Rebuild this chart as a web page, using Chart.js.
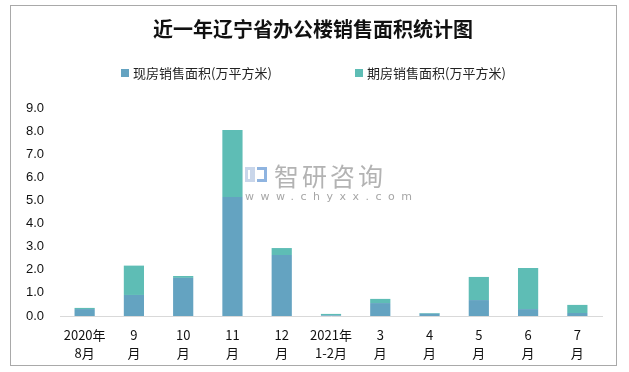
<!DOCTYPE html>
<html>
<head>
<meta charset="utf-8">
<script src="https://cdn.jsdelivr.net/npm/chart.js@4"></script>
<style>
    html, body { margin: 0; padding: 0; background: #fff; }
    #wrap { position: relative; width: 629px; height: 372px; }
    #frame { position: absolute; left: 10px; top: 5px; width: 605px; height: 359px; border: 1px solid #a9a9a9; box-sizing: content-box; }
    #legend { position: absolute; top: 65px; left: 0; width: 629px; font: 13px "Noto Sans CJK SC", sans-serif; color: #222; }
    #legend span.item { position: absolute; white-space: nowrap; line-height: 16px; }
    #legend i { display: inline-block; width: 8px; height: 8px; margin-right: 4px; vertical-align: 1px; }
    #mark { position: absolute; left: 245px; top: 162px; color: #b3b3b3; pointer-events: none; }
    #mark .cn { position: absolute; left: 29px; top: 1px; font: 25px "Noto Sans CJK SC", sans-serif; letter-spacing: 3px; line-height: 24px; white-space: nowrap; }
    #mark .en { position: absolute; left: 0; top: 29px; font: 11px "DejaVu Sans", sans-serif; letter-spacing: 6.5px; line-height: 12px; white-space: nowrap; color: #a6a6a6; }
    #mark .logo1 { position: absolute; left: 0; top: 5px; width: 10px; height: 15px; border: 3px solid #c9d6ea; border-right-width: 5px; box-sizing: border-box; }
    #mark .logo2 { position: absolute; left: 12px; top: 5px; width: 10px; height: 15px; border: 3px solid #8fb4e0; border-left-width: 0; box-sizing: border-box; }
    canvas { position: absolute; left: 0; top: 0; }
</style>
</head>
<body>
<div id="wrap">
    <div id="frame"></div>
    <canvas id="salesChart" width="629" height="372"></canvas>
    <div id="legend"></div>
    <div id="mark">
        <div class="logo1"></div><div class="logo2"></div>
        <div class="cn">智研咨询</div>
        <div class="en">www.chyxx.com</div>
    </div>
</div>
<script>
// --- Données : surface de vente des bureaux, Liaoning ---
const categories = [
    ['2020年', '8月'], ['9', '月'], ['10', '月'], ['11', '月'], ['12', '月'],
    ['2021年', '1-2月'], ['3', '月'], ['4', '月'], ['5', '月'], ['6', '月'], ['7', '月']
];
const seriesNames = ['现房销售面积(万平方米)', '期房销售面积(万平方米)'];
const existingArea = [0.30, 0.91, 1.65, 5.15, 2.64, 0.03, 0.56, 0.10, 0.69, 0.30, 0.13];
const forwardArea  = [0.05, 1.27, 0.08, 2.90, 0.30, 0.06, 0.18, 0.03, 1.00, 1.78, 0.35];
const yTicks = [0, 1, 2, 3, 4, 5, 6, 7, 8, 9];

const colors = ['#64a3c1', '#5ebdb5'];
const titleText = '近一年辽宁省办公楼销售面积统计图';

// légende HTML (positions calées sur l'original)
const legendEl = document.getElementById('legend');
const legendX = [121, 355];
seriesNames.forEach((name, i) => {
    const s = document.createElement('span');
    s.className = 'item';
    s.style.left = legendX[i] + 'px';
    s.innerHTML = `<i style="background:${colors[i]}"></i>${name}`;
    legendEl.appendChild(s);
});

const ctx = document.getElementById('salesChart');
new Chart(ctx, {
    type: 'bar',
    data: {
        labels: categories,
        datasets: [
            { label: seriesNames[0], data: existingArea, backgroundColor: colors[0], barPercentage: 0.41, categoryPercentage: 1 },
            { label: seriesNames[1], data: forwardArea, backgroundColor: colors[1], barPercentage: 0.41, categoryPercentage: 1 }
        ]
    },
    options: {
        responsive: false,
        animation: false,
        layout: { padding: { left: 24, right: 27, top: 0, bottom: 0 } },
        plugins: {
            legend: { display: false },
            tooltip: { enabled: false },
            title: {
                display: true,
                text: titleText,
                color: '#111',
                font: { family: '"Noto Sans CJK SC", serif', size: 20, weight: 'bold', lineHeight: 1.2 },
                padding: { top: 17, bottom: 67 }
            }
        },
        scales: {
            x: {
                stacked: true,
                grid: { display: false, drawTicks: false },
                border: { display: true, color: '#d9d9d9', width: 1 },
                ticks: {
                    color: '#111',
                    padding: 10,
                    maxRotation: 0,
                    autoSkip: false,
                    font: { family: '"Noto Sans CJK SC", sans-serif', size: 13, lineHeight: 1.38 }
                },
                afterFit: (scale) => { scale.height = 56; }
            },
            y: {
                stacked: true,
                min: 0,
                max: 9,
                grid: { display: false, drawTicks: false },
                border: { display: false },
                afterBuildTicks: (scale) => { scale.ticks = yTicks.map(v => ({ value: v })); },
                ticks: {
                    color: '#111',
                    padding: 16,
                    font: { family: '"Liberation Sans", sans-serif', size: 13 },
                    callback: (v) => Number(v).toFixed(1)
                },
                afterFit: (scale) => { scale.width = 36; }
            }
        }
    }
});
</script>
</body>
</html>
